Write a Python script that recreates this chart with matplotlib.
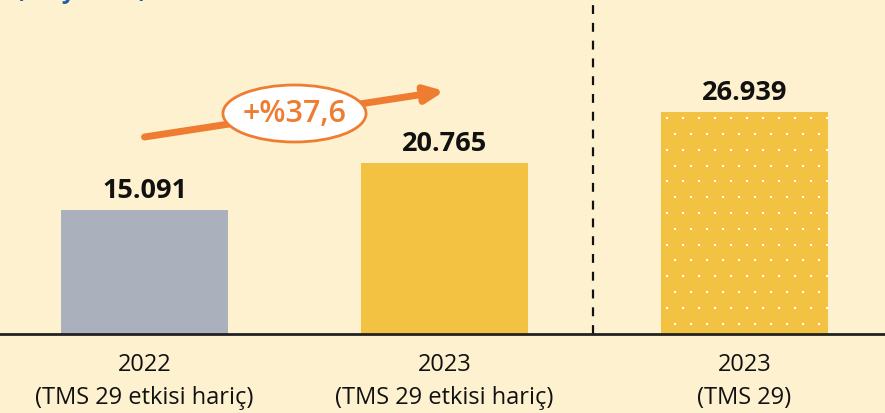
import numpy as np
import matplotlib.pyplot as plt
from matplotlib.patches import Ellipse

plt.rcParams['font.family'] = ['Open Sans', 'DejaVu Sans']

# data
categories = ['2022\n(TMS 29 etkisi hariç)', '2023\n(TMS 29 etkisi hariç)', '2023\n(TMS 29)']
values = [15091, 20765, 26939]
value_labels = ['15.091', '20.765', '26.939']
growth_label = '+%37,6'
unit_label = '(milyon TL)'

bg = '#FEF1CF'
gray = '#AAB1BC'
yellow = '#F3C243'
orange = '#EE7D31'
blue = '#1F5FA6'

W, H = 885, 414
fig = plt.figure(figsize=(W / 100, H / 100), dpi=100, facecolor=bg)
base_px = 335          # baseline, px from top
xpx = 300.0            # px per category step
vpx = 121.5            # value units per px
ax = fig.add_axes([0, (H - base_px) / H, 1, base_px / H])
ax.set_facecolor(bg)

x = np.arange(len(values))
colors = [gray, yellow, yellow]
bw = 0.557
bars = ax.bar(x, values, width=bw, color=colors, linewidth=0, zorder=2)

ax.set_xlim(-144.5 / xpx, (W - 144.5) / xpx)
ax.set_ylim(0, base_px * vpx)

# white dot texture on the TMS 29 bar
b = bars[2]
left_px = 6.5
dx, dy = [], []
row = 0
ypos = values[2] / vpx - 6
while ypos > 0:
    off = 0 if row % 2 == 0 else -8
    xs = np.arange(left_px + off, bw * xpx, 16)
    dx.extend(x[2] - bw / 2 + xs / xpx)
    dy.extend([ypos * vpx] * len(xs))
    ypos -= 15.8
    row += 1
dots = ax.scatter(dx, dy, s=3.5, marker='s', color='white', linewidths=0, zorder=3)
dots.set_clip_path(b)

for xi, v, lab in zip(x, values, value_labels):
    ax.annotate(lab, (xi, v), xytext=(0, 5), textcoords='offset points',
                ha='center', va='bottom', fontsize=19.5, fontweight='bold', color='#111111')

# dashed separator
ax.axvline(1.495, color='#111111', lw=1.6, ls=(0, (4, 4)), zorder=1)

# growth arrow between first two bars
ax.annotate('', xy=(x[1] + 0.0, 243 * vpx), xytext=(x[0], 197 * vpx),
            arrowprops=dict(arrowstyle='-|>,head_length=1.1,head_width=0.5',
                            color=orange, lw=5, shrinkA=0, shrinkB=0), zorder=3)
yc = 220.5 * vpx
ell = Ellipse((0.5, yc), 0.477, 57 * vpx, facecolor='white', edgecolor=orange, lw=2, zorder=4)
ax.add_patch(ell)
ax.text(0.5, yc, growth_label, ha='center', va='center', fontsize=22,
        fontweight='semibold', color=orange, zorder=5)

ax.set_xticks(x)
ax.set_xticklabels(categories, fontsize=17, color='#111111', linespacing=1.5)
ax.tick_params(axis='x', length=0, pad=13)
ax.set_yticks([])
for s in ['top', 'left', 'right']:
    ax.spines[s].set_visible(False)
ax.spines['bottom'].set_color('#222222')
ax.spines['bottom'].set_linewidth(2)

# cut-off unit title at top
fig.text(16 / W, 1 + 1.5 / H, unit_label, ha='left', va='baseline', fontsize=17,
         fontweight='bold', color=blue)

fig.savefig('out.png', dpi=100, facecolor=bg)
